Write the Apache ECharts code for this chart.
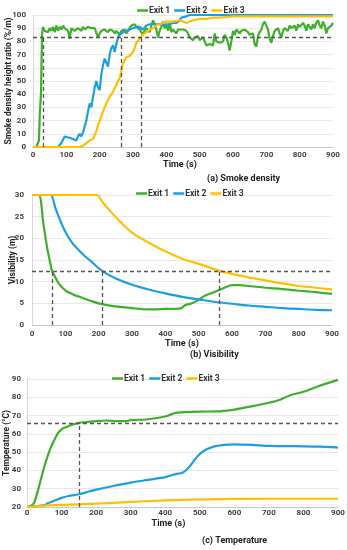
<!DOCTYPE html>
<html><head><meta charset="utf-8">
<script src="https://cdn.jsdelivr.net/npm/echarts@6/dist/echarts.min.js"></script>
<style>html,body{margin:0;padding:0;background:#fff}#c{width:347px;height:550px}</style>
</head><body><div id="c"></div>
<script>
const legendNames = ['Exit 1', 'Exit 2', 'Exit 3'];
const captions = ['(a) Smoke density', '(b) Visibility', '(c) Temperature'];
const yNames = ['Smoke density height ratio (%/m)', 'Visibility (m)', 'Temperature (°C)'];
const xName = 'Time (s)';

// (a) smoke density height ratio
const smokeExit1 = [[0,0],[10,0],[15,0],[18,5],[20,23],[24,40],[27,85],[30,91],[35,88],[40,89],[45,87],[50,90],[55,88],[60,91],[65,87],[70,92],[75,88],[80,91],[85,89],[90,92],[95,90],[100,91],[105,88],[110,82],[115,90],[120,91],[125,88],[130,88],[135,90],[140,89],[145,88],[150,91],[155,89],[160,90],[165,91],[170,90],[175,90],[180,91],[185,90],[190,89],[195,83],[200,86],[205,88],[210,87],[215,89],[220,88],[225,87],[230,89],[235,90],[240,88],[245,86],[250,88],[255,87],[260,85],[265,88],[270,87],[275,89],[280,86],[285,88],[290,90],[295,92],[300,91],[305,93],[310,91],[315,90],[320,89],[325,87],[330,85],[335,88],[340,90],[345,89],[350,87],[355,92],[360,96],[365,93],[370,89],[375,83],[380,88],[385,91],[390,95],[395,90],[400,93],[405,88],[410,94],[415,87],[420,89],[425,90],[430,86],[435,89],[440,88],[450,89],[460,88],[465,86],[470,83],[480,81],[485,83],[490,82],[495,84],[500,81],[505,80],[510,83],[515,82],[520,77],[530,78],[540,77],[545,86],[550,80],[560,79],[570,80],[575,85],[580,83],[585,79],[590,73],[595,80],[600,88],[605,85],[610,89],[615,88],[620,86],[625,88],[630,87],[635,89],[640,90],[645,87],[650,85],[655,84],[660,86],[665,78],[670,76],[675,84],[680,87],[685,89],[690,93],[695,95],[700,92],[705,89],[710,82],[715,79],[720,84],[725,88],[730,87],[735,90],[740,86],[745,83],[750,88],[755,90],[760,91],[765,88],[770,92],[775,90],[780,89],[785,92],[790,88],[795,93],[800,91],[805,90],[810,94],[815,92],[820,88],[825,93],[830,91],[835,89],[840,93],[845,90],[850,94],[855,96],[860,92],[865,90],[870,95],[875,92],[880,86],[885,90],[890,89],[895,92],[900,94]];
const smokeExit2 = [[0,0],[75,0],[85,3],[95,8],[100,9],[110,7],[120,6],[130,5],[135,8],[140,10],[145,8],[150,11],[155,12],[160,20],[165,27],[170,33],[175,30],[180,38],[185,45],[190,50],[195,45],[200,43],[205,55],[210,62],[215,67],[220,64],[225,61],[230,70],[235,75],[240,77],[245,72],[250,78],[255,83],[260,85],[265,86],[270,87],[280,88],[290,89],[300,90],[310,91],[320,91],[330,89],[340,92],[350,93],[360,93],[370,93],[380,93],[390,92],[400,93],[410,93],[420,94],[430,94],[440,96],[445,98],[450,99],[460,99],[470,100],[600,100],[900,100]];
const smokeExit3 = [[0,0],[140,0],[150,1],[160,3],[170,5],[180,6],[190,12],[200,20],[210,27],[220,33],[230,38],[240,42],[250,47],[255,50],[260,52],[265,58],[270,63],[275,66],[280,68],[290,69],[300,72],[305,75],[310,79],[320,82],[330,85],[340,87],[350,89],[360,90],[370,92],[380,93],[390,94],[400,95],[420,95],[440,96],[450,95],[460,94],[470,95],[480,96],[500,97],[520,97],[540,98],[560,98],[580,98.5],[600,99],[650,99],[700,99],[900,99]];
const smokeThreshold = 83;
const smokeCrossTimes = [30, 265, 325];

// (b) visibility
const visExit1 = [[0,30],[20,30],[34,23.5],[45,18],[54,14.6],[60,12.5],[70,11],[80,9.6],[100,8],[125,7],[150,6.3],[175,5.6],[200,5],[250,4.3],[300,3.9],[350,3.6],[400,3.7],[440,3.8],[450,4],[460,4.6],[480,5],[500,5.8],[520,6.8],[540,7.4],[560,8],[580,8.7],[600,9.2],[620,9.2],[650,9],[700,8.6],[750,8.3],[800,7.9],[850,7.6],[900,7.2]];
const visExit2 = [[0,30],[55,30],[70,27],[80,25],[100,21.5],[120,19],[150,16.5],[180,14.5],[210,12.5],[250,10.8],[300,9.3],[350,8.2],[400,7.3],[450,6.5],[500,5.9],[550,5.3],[600,4.9],[650,4.5],[700,4.2],[750,3.9],[800,3.7],[850,3.5],[900,3.4]];
const visExit3 = [[0,30],[195,30],[210,28.5],[230,26.7],[250,25],[300,21.3],[350,19],[400,17],[450,15.3],[500,14.1],[563,12.5],[600,11.8],[650,11],[700,10.3],[750,9.6],[800,9],[850,8.6],[900,8.2]];
const visThreshold = 12.5;
const visCrossTimes = [60, 210, 563];

// (c) temperature
const tempExit1 = [[0,20],[10,20.5],[20,22],[30,28],[40,35],[50,42],[60,48],[70,53],[80,57],[90,60.5],[100,62.5],[110,63.5],[120,64.2],[130,65],[150,66],[175,66.5],[200,67],[230,67.3],[260,67],[290,67],[300,67.5],[350,68],[400,69.5],[430,71.5],[450,71.8],[500,72.2],[550,72.3],[600,73.3],[650,75],[700,77],[730,78.5],[760,81],[800,83],[850,86.5],[900,89.5]];
const tempExit2 = [[0,20],[50,21],[60,22],[80,23.5],[100,25],[120,26],[150,27],[180,28.5],[200,29.5],[250,31.5],[300,33.3],[350,34.8],[400,36.3],[430,38],[450,38.7],[470,42],[490,47],[510,50.5],[540,53],[570,54],[600,54.3],[650,54],[700,53.4],[750,53.3],[800,53.2],[850,53],[900,52.5]];
const tempExit3 = [[0,20],[50,20.8],[100,21.2],[150,21.4],[200,21.8],[250,22.3],[300,22.8],[350,23.2],[400,23.6],[450,23.9],[500,24.1],[550,24.3],[600,24.4],[700,24.5],[800,24.5],[900,24.5]];
const tempThreshold = 66;
const tempCrossTimes = [150];

const colors = ['#3fb02c', '#1c9fe0', '#ffc000'];
const FONT = 'Roboto';
const chart = echarts.init(document.getElementById('c'), null, {renderer: 'canvas'});

const panels = [
  {grid: {left: 33, right: 14, top: 15, height: 132}, ymin: 0, ymax: 100, yint: 10, data: [smokeExit1, smokeExit2, smokeExit3], thr: smokeThreshold, cross: smokeCrossTimes, base: 0, yGap: 20, yLabelMargin: 7, xLabelMargin: 4, xGap: 13.5, legendTop: 1, legendLeft: 132, capTop: 174, capLeft: 207, xNamePad: [0,6,0,0]},
  {grid: {left: 32, right: 15, top: 195, height: 130}, ymin: 0, ymax: 30, yint: 5, data: [visExit1, visExit2, visExit3], thr: visThreshold, cross: visCrossTimes, base: 0, yGap: 15, yLabelMargin: 8, xLabelMargin: 5, xGap: 14, legendTop: 184, legendLeft: 131, capTop: 350, capLeft: 190, xNamePad: [0,0,0,0]},
  {grid: {left: 27, right: 9, top: 379, height: 128}, ymin: 20, ymax: 90, yint: 10, data: [tempExit1, tempExit2, tempExit3], thr: tempThreshold, cross: tempCrossTimes, base: 20, yGap: 16, yLabelMargin: 6, xLabelMargin: 1.5, xGap: 12, legendTop: 369, legendLeft: 107, capTop: 536, capLeft: 202, xNamePad: [0,28,0,0]}
];

const option = {animation: false, grid: [], xAxis: [], yAxis: [], series: [], legend: [], graphic: []};
panels.forEach((p, i) => {
  option.grid.push(Object.assign({containLabel: false, outerBoundsMode: 'none'}, p.grid));
  option.xAxis.push({
    type: 'value', gridIndex: i, min: 0, max: 900, interval: 100,
    name: xName, nameLocation: 'middle', nameGap: p.xGap, nameMoveOverlap: false,
    nameTextStyle: {fontFamily: FONT, fontSize: 9, fontWeight: 'bold', color: '#222', padding: p.xNamePad},
    axisLine: {show: true, lineStyle: {color: '#c8c8c8', width: 1}},
    axisTick: {show: false}, splitLine: {show: false},
    axisLabel: {fontFamily: FONT, fontSize: 8, fontWeight: 'bold', color: '#404040', margin: p.xLabelMargin}
  });
  option.yAxis.push({
    type: 'value', gridIndex: i, min: p.ymin, max: p.ymax, interval: p.yint,
    name: yNames[i], nameLocation: 'middle', nameGap: p.yGap, nameRotate: 90, nameMoveOverlap: false,
    nameTextStyle: {fontFamily: FONT, fontSize: 8.5, fontWeight: 'bold', color: '#222'},
    axisLine: {show: true, lineStyle: {color: '#d9d9d9', width: 1}},
    axisTick: {show: false},
    splitLine: {show: true, lineStyle: {color: '#e8e8e8', width: 1}},
    axisLabel: {fontFamily: FONT, fontSize: 8, fontWeight: 'bold', color: '#404040', margin: p.yLabelMargin}
  });
  p.data.forEach((d, k) => {
    option.series.push({
      type: 'line', name: legendNames[k], xAxisIndex: i, yAxisIndex: i, data: d,
      showSymbol: false, symbol: 'none', smooth: i === 0 ? false : 0.3,
      lineStyle: {color: colors[k], width: 2.2}, itemStyle: {color: colors[k]}, z: 2 + k
    });
  });
  const ml = [[{coord: [0, p.thr]}, {coord: [900, p.thr]}]];
  p.cross.forEach(t => ml.push([{coord: [t, p.base]}, {coord: [t, p.thr]}]));
  option.series.push({
    type: 'line', name: 'ref' + i, xAxisIndex: i, yAxisIndex: i, data: [], z: 10,
    markLine: {silent: true, symbol: 'none', label: {show: false}, animation: false,
      lineStyle: {color: '#555', type: [4, 3], width: 1.3}, data: ml}
  });
  option.legend.push({
    top: p.legendTop, left: p.legendLeft, data: legendNames, icon: 'rect',
    itemWidth: 11, itemHeight: 2.5, itemGap: 4,
    textStyle: {fontFamily: FONT, fontSize: 8.5, fontWeight: 'bold', color: '#333', padding: [0,0,0,-4]}
  });
  option.graphic.push({
    type: 'text', left: p.capLeft, top: p.capTop,
    style: {text: captions[i], fontFamily: FONT, fontSize: 9, fontWeight: 'bold', fill: '#222', textAlign: 'center'}
  });
});
chart.setOption(option);
</script></body></html>
